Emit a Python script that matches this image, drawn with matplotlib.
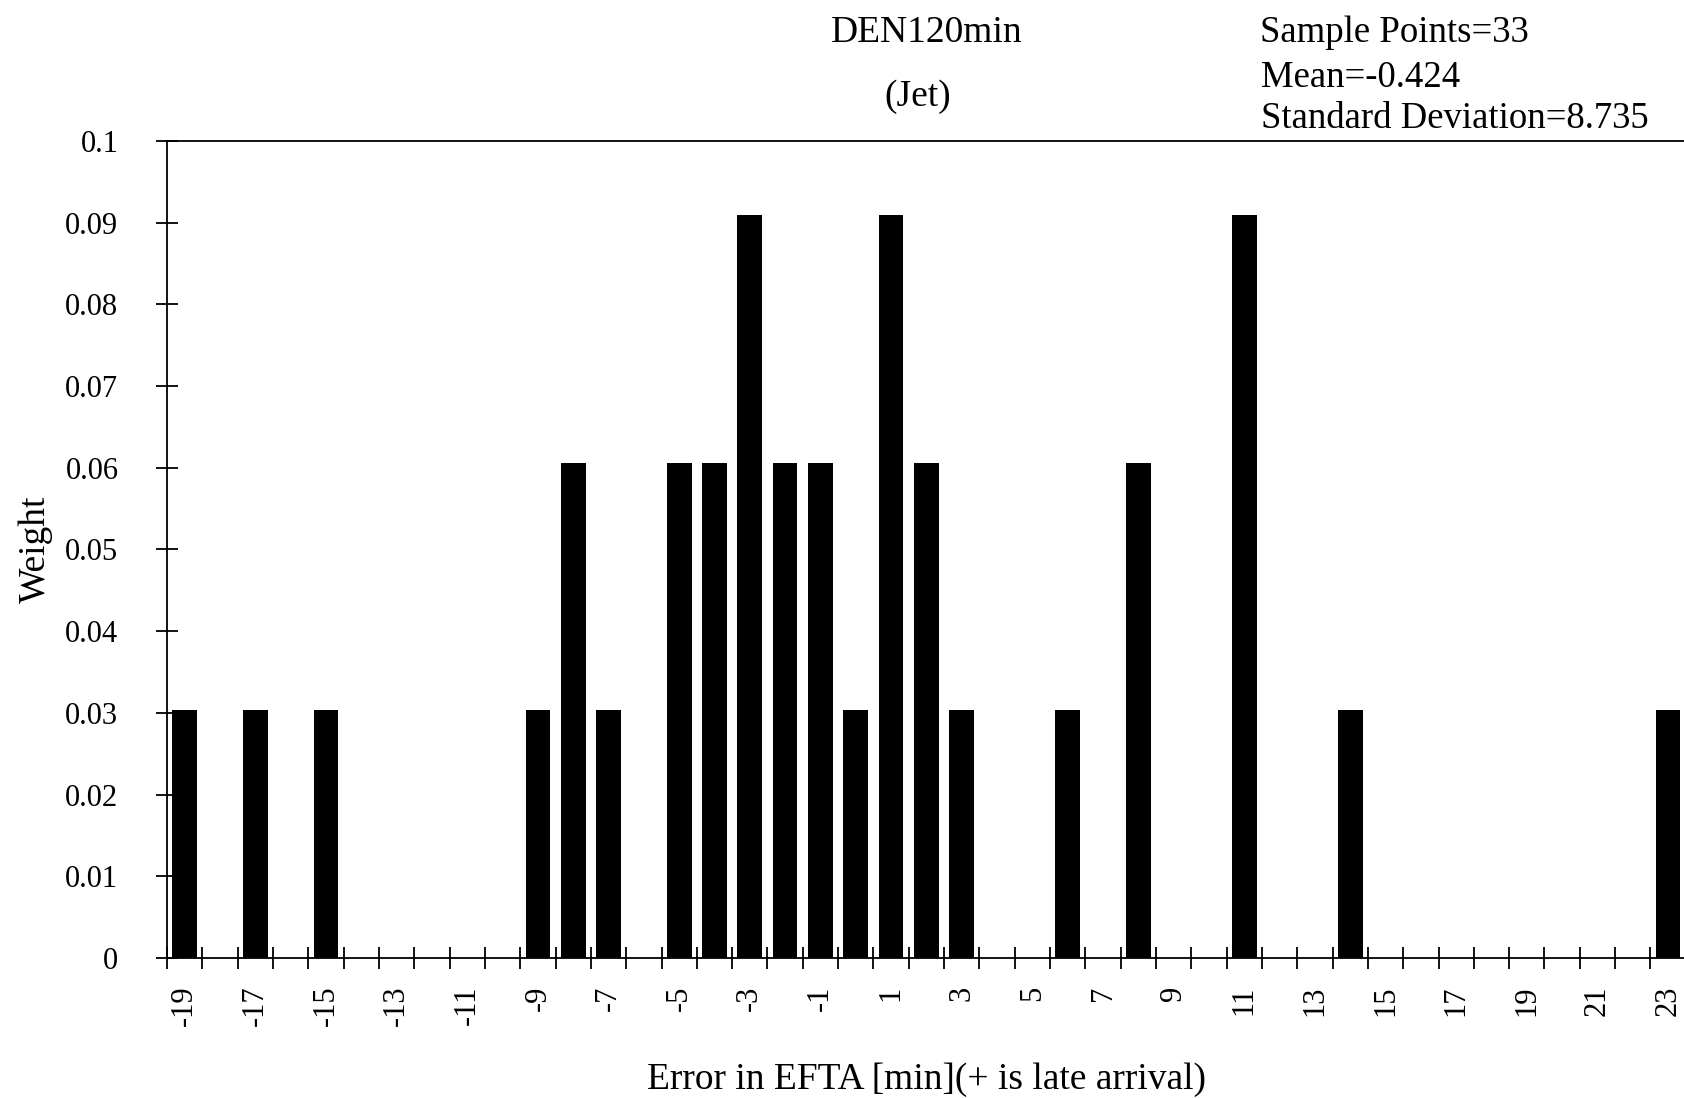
import numpy as np
import matplotlib
matplotlib.use("Agg")
import matplotlib.pyplot as plt

plt.rcParams['font.family'] = ['Liberation Serif', 'DejaVu Serif']

# error values (min) and weights
errors = list(range(-19, 24))
bar_errors = [-19, -17, -15, -9, -8, -7, -5, -4, -3, -2, -1, 0, 1, 2, 3, 6, 8, 11, 14, 23]
bar_weights = [0.0303, 0.0303, 0.0303, 0.0303, 0.0606, 0.0303, 0.0606, 0.0606, 0.0909, 0.0606,
               0.0606, 0.0303, 0.0909, 0.0606, 0.0303, 0.0303, 0.0606, 0.0909, 0.0303, 0.0303]
tick_labels = [str(e) for e in errors[::2]]
y_ticks = [0, 0.01, 0.02, 0.03, 0.04, 0.05, 0.06, 0.07, 0.08, 0.09, 0.1]
y_labels = ['0', '0.01', '0.02', '0.03', '0.04', '0.05', '0.06', '0.07', '0.08', '0.09', '0.1']

fig = plt.figure(figsize=(16.84, 10.98), dpi=100)
ax = fig.add_axes([0.0992, 0.1275, 0.9008, 0.7441])

ax.bar(bar_errors, bar_weights, width=0.7, color='black')
ax.set_xlim(-19.5, 23.45)
ax.set_ylim(0, 0.1)

# boundary ticks between categories, labels on every other category
ax.set_xticks(np.arange(-19.5, 23.5, 1.0))
ax.set_xticklabels([])
ax.tick_params(axis='x', which='major', direction='inout', length=16, width=1.3)
ax.set_xticks(errors[::2], minor=True)
ax.set_xticklabels(tick_labels, minor=True, rotation=90, fontsize=22, va='top')
ax.tick_params(axis='x', which='minor', length=0, pad=20)

ax.set_yticks(y_ticks)
ax.set_yticklabels(y_labels, fontsize=22)
ax.tick_params(axis='y', direction='inout', length=16, width=1.3, pad=27)

for s in ['left', 'bottom', 'top']:
    ax.spines[s].set_linewidth(1.3)
ax.spines['right'].set_visible(False)

fig.text(0.021, 0.5, 'Weight', fontsize=27, rotation=90, ha='center', va='center')
fig.text(0.55, 0.017, 'Error in EFTA [min](+ is late arrival)', fontsize=27,
         ha='center', va='center')

fig.text(0.55, 0.970, 'DEN120min', fontsize=27, ha='center', va='center')
fig.text(0.545, 0.912, '(Jet)', fontsize=27, ha='center', va='center')
fig.text(0.748, 0.970, 'Sample Points=33', fontsize=26.5, ha='left', va='center')
fig.text(0.749, 0.929, 'Mean=-0.424', fontsize=26.5, ha='left', va='center')
fig.text(0.749, 0.892, 'Standard Deviation=8.735', fontsize=26.5, ha='left', va='center')

fig.savefig('out.png', dpi=100)
